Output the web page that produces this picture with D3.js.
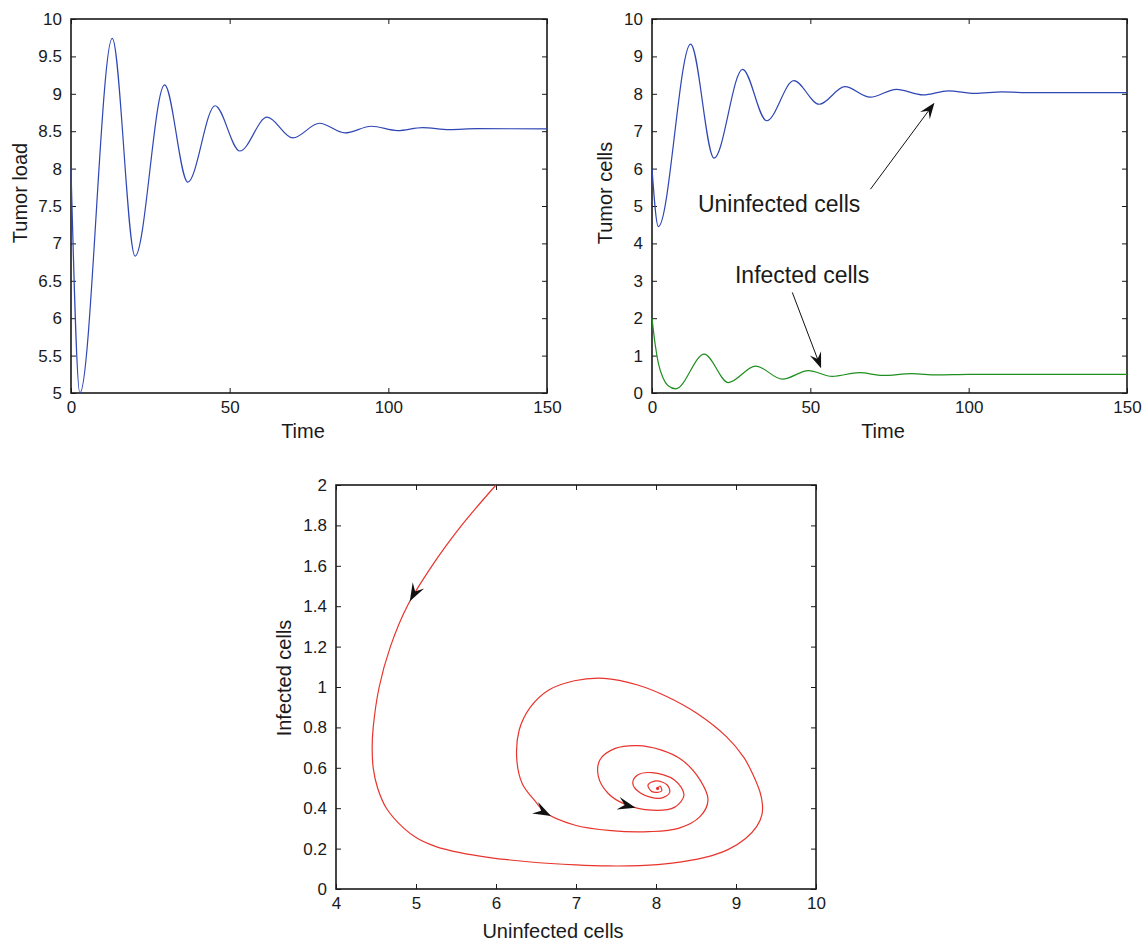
<!DOCTYPE html>
<html><head><meta charset="utf-8">
<script src="https://cdn.jsdelivr.net/npm/d3@7"></script>
<style>
body{margin:0;background:#fff}
text{font-family:"Liberation Sans",Arial,Helvetica,sans-serif;fill:#1a1a1a}
</style>
</head><body>
<svg id="c" width="1146" height="944"></svg>
<script>
// ---------- Data ----------
// Panel 1: tumor load vs time
const loadTime  = [0, 2.8, 13.0, 20.2, 29.5, 36.8, 45.4, 53.2, 61.8, 69.9, 78.3, 86.3, 94.7, 102.9, 110.8, 119.2, 128, 150];
const loadValue = [8.0, 5.0, 9.74, 6.83, 9.12, 7.82, 8.84, 8.235, 8.687, 8.41, 8.606, 8.477, 8.566, 8.508, 8.548, 8.522, 8.535, 8.53];

// Panel 2: uninfected / infected tumor cells vs time
const uninfTime  = [0, 2.0, 12.2, 19.6, 28.6, 36.2, 44.8, 52.8, 60.9, 68.9, 77.2, 85.6, 93.6, 101.9, 110.5, 120, 150];
const uninfValue = [6.0, 4.45, 9.33, 6.28, 8.655, 7.28, 8.35, 7.72, 8.19, 7.91, 8.12, 7.97, 8.08, 8.01, 8.05, 8.03, 8.03];
const infTime  = [0, 1, 2, 3.5, 5, 7.5, 16.5, 24.1, 32.7, 41.2, 49.4, 56.9, 65.5, 72.9, 82, 90, 100, 150];
const infValue = [2.0, 1.3, 0.8, 0.4, 0.2, 0.11, 1.04, 0.28, 0.72, 0.37, 0.60, 0.445, 0.543, 0.47, 0.516, 0.485, 0.50, 0.50];

// Panel 3: phase portrait (uninfected, infected)
const phaseU = [6.0, 5.57, 5.2, 4.89, 4.68, 4.54, 4.465, 4.452, 4.465, 4.52, 4.63, 4.85, 5.02, 5.25, 5.55, 5.9, 6.4, 7.0, 7.4, 7.8, 8.2, 8.60, 8.90, 9.12, 9.26, 9.325, 9.33, 9.30, 9.22, 9.10, 8.88, 8.51, 8.14, 7.77, 7.35, 6.98, 6.66, 6.43, 6.29, 6.26, 6.33, 6.50, 6.61, 6.98, 7.44, 7.91, 8.28, 8.55, 8.65, 8.55, 8.32, 8.05, 7.77, 7.49, 7.30, 7.28, 7.40, 7.61, 7.95, 8.23, 8.35, 8.23, 7.95, 7.77, 7.71, 7.81, 8.05, 8.17, 8.14, 8.0, 7.90, 7.95, 8.07, 8.05, 8.02];
const phaseI = [2.0, 1.8, 1.6, 1.4, 1.2, 1.0, 0.8, 0.7, 0.6, 0.5, 0.4, 0.3, 0.25, 0.21, 0.18, 0.157, 0.135, 0.119, 0.114, 0.116, 0.128, 0.155, 0.195, 0.25, 0.31, 0.37, 0.42, 0.48, 0.56, 0.65, 0.754, 0.87, 0.952, 1.01, 1.043, 1.031, 0.985, 0.90, 0.787, 0.64, 0.52, 0.43, 0.38, 0.317, 0.289, 0.284, 0.30, 0.358, 0.44, 0.54, 0.64, 0.69, 0.71, 0.696, 0.64, 0.556, 0.474, 0.42, 0.39, 0.404, 0.465, 0.54, 0.576, 0.564, 0.523, 0.474, 0.449, 0.477, 0.515, 0.535, 0.515, 0.482, 0.485, 0.51, 0.498];
const phaseArrowU = [4.90, 6.69, 7.74];
const phaseArrowI = [1.43, 0.366, 0.40];

// Ticks
const timeTicks = [0, 50, 100, 150];
const loadTicks = [5, 5.5, 6, 6.5, 7, 7.5, 8, 8.5, 9, 9.5, 10];
const cellTicks = [0, 1, 2, 3, 4, 5, 6, 7, 8, 9, 10];
const phaseXTicks = [4, 5, 6, 7, 8, 9, 10];
const phaseYTicks = [0, 0.2, 0.4, 0.6, 0.8, 1, 1.2, 1.4, 1.6, 1.8, 2];

// Annotations panel 2 (data coords)
const annoLabels = ["Uninfected cells", "Infected cells"];
const annoTextT = [14.5, 26.2];
const annoTextV = [4.84, 2.94];
const annoTailT = [69.0, 44.3];
const annoTailV = [5.45, 2.69];
const annoTipT  = [89.2, 53.4];
const annoTipV  = [7.76, 0.66];

// ---------- Drawing ----------
const svg = d3.select('#c');
svg.append('rect').attr('width',1146).attr('height',944).attr('fill','#fff');
const fmt = d3.format('~g');
const TICK = 5;
const AX = '#1a1a1a';

function frame(x, y, xt, yt) {
  const [l, r] = x.range(), [b, t] = y.range();
  const g = svg.append('g');
  const ax = [
    g.append('g').attr('transform',`translate(0,${b})`).call(d3.axisBottom(x).tickValues(xt).tickFormat(fmt).tickSize(-TICK).tickSizeOuter(0).tickPadding(8)),
    g.append('g').attr('transform',`translate(${l},0)`).call(d3.axisLeft(y).tickValues(yt).tickFormat(fmt).tickSize(-TICK).tickSizeOuter(0).tickPadding(9)),
    g.append('g').attr('transform',`translate(0,${t})`).call(d3.axisTop(x).tickValues(xt).tickFormat('').tickSize(-TICK).tickSizeOuter(0)),
    g.append('g').attr('transform',`translate(${r},0)`).call(d3.axisRight(y).tickValues(yt).tickFormat('').tickSize(-TICK).tickSizeOuter(0))
  ];
  ax.forEach(a => {
    a.select('.domain').remove();
    a.selectAll('line').attr('stroke', AX).attr('stroke-width', 1);
    a.selectAll('text').attr('font-size', 17).attr('fill', AX).style('font-family','"Liberation Sans",Arial,sans-serif');
  });
  g.append('rect').attr('x', l).attr('y', t).attr('width', r - l).attr('height', b - t)
    .attr('fill','none').attr('stroke', AX).attr('stroke-width', 1.6);
  return g;
}

function label(txt, x, y, rot, size) {
  const t = svg.append('text').attr('font-size', size || 20).attr('text-anchor','middle').text(txt);
  if (rot) t.attr('transform', `translate(${x},${y}) rotate(-90)`);
  else t.attr('x', x).attr('y', y);
  return t;
}

function arrowHead(g, x, y, ang, L, W) {
  const p = d3.path();
  p.moveTo(0, 0); p.lineTo(-L, -W/2); p.lineTo(-L*0.62, 0); p.lineTo(-L, W/2); p.closePath();
  g.append('path').attr('d', p.toString()).attr('fill', '#111')
    .attr('transform', `translate(${x},${y}) rotate(${ang*180/Math.PI})`);
}

// Panel 1
const x1 = d3.scaleLinear().domain([0,150]).range([71,547]);
const y1 = d3.scaleLinear().domain([5,10]).range([393,19]);
frame(x1, y1, timeTicks, loadTicks);
svg.append('path').datum(d3.range(loadTime.length))
  .attr('d', d3.line().x(i => x1(loadTime[i])).y(i => y1(loadValue[i])).curve(d3.curveMonotoneX))
  .attr('fill','none').attr('stroke','#2f46b5').attr('stroke-width',1.2);
label('Time', 303, 438);
label('Tumor load', 27, 193, true);

// Panel 2
const x2 = d3.scaleLinear().domain([0,150]).range([652,1127]);
const y2 = d3.scaleLinear().domain([0,10]).range([393,19]);
frame(x2, y2, timeTicks, cellTicks);
svg.append('path').datum(d3.range(uninfTime.length))
  .attr('d', d3.line().x(i => x2(uninfTime[i])).y(i => y2(uninfValue[i])).curve(d3.curveMonotoneX))
  .attr('fill','none').attr('stroke','#2f46b5').attr('stroke-width',1.2);
svg.append('path').datum(d3.range(infTime.length))
  .attr('d', d3.line().x(i => x2(infTime[i])).y(i => y2(infValue[i])).curve(d3.curveMonotoneX))
  .attr('fill','none').attr('stroke','#1f8f1f').attr('stroke-width',1.2);
label('Time', 883, 438);
label('Tumor cells', 612, 193, true);
const ag = svg.append('g');
annoLabels.forEach((s, k) => {
  ag.append('text').attr('x', x2(annoTextT[k])).attr('y', y2(annoTextV[k])).attr('font-size', 23).text(s);
  const xa = x2(annoTailT[k]), ya = y2(annoTailV[k]), xb = x2(annoTipT[k]), yb = y2(annoTipV[k]);
  const ang = Math.atan2(yb - ya, xb - xa);
  ag.append('line').attr('x1', xa).attr('y1', ya)
    .attr('x2', xb - 9*Math.cos(ang)).attr('y2', yb - 9*Math.sin(ang))
    .attr('stroke', '#111').attr('stroke-width', 1);
  arrowHead(ag, xb, yb, ang, 16, 12);
});

// Panel 3
const x3 = d3.scaleLinear().domain([4,10]).range([336,816]);
const y3 = d3.scaleLinear().domain([0,2]).range([889,485]);
frame(x3, y3, phaseXTicks, phaseYTicks);
const traj = svg.append('path').datum(d3.range(phaseU.length))
  .attr('d', d3.line().x(i => x3(phaseU[i])).y(i => y3(phaseI[i])).curve(d3.curveCatmullRom.alpha(0.5)))
  .attr('fill','none').attr('stroke','#e8342c').attr('stroke-width',1.2);
svg.append('circle').attr('cx', x3(phaseU[phaseU.length-1])).attr('cy', y3(phaseI[phaseI.length-1])).attr('r', 1.6).attr('fill','#e8342c');
label('Uninfected cells', 553, 938);
label('Infected cells', 291, 678, true);

// arrowheads along trajectory: direction from path tangent near each tip
const node = traj.node();
const total = node.getTotalLength();
phaseArrowU.forEach((u, k) => {
  const px = x3(u), py = y3(phaseArrowI[k]);
  let best = 0, bd = Infinity;
  for (let s = 0; s <= total; s += 1) {
    const p = node.getPointAtLength(s);
    const d = (p.x - px)**2 + (p.y - py)**2;
    if (d < bd) { bd = d; best = s; }
  }
  const a = node.getPointAtLength(Math.max(0, best - 4)), b = node.getPointAtLength(Math.min(total, best + 4));
  const ang = Math.atan2(b.y - a.y, b.x - a.x);
  const tip = node.getPointAtLength(best);
  arrowHead(svg, tip.x, tip.y, ang, 18, 13);
});
</script>
</body></html>
